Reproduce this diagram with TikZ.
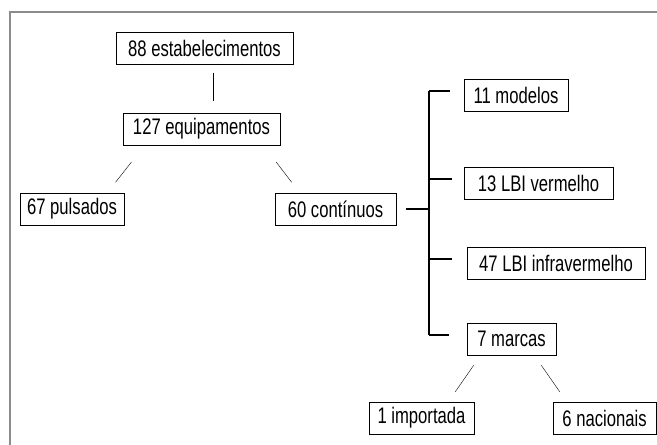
\documentclass[tikz,border=0pt]{standalone}
\usepackage{fontspec}
\setmainfont{Liberation Sans}[FakeStretch=0.74]
\definecolor{framegray}{RGB}{140,140,140}
\begin{document}
\begin{tikzpicture}[x=1pt, y=-1pt, every node/.style={rectangle, draw, line width=1pt, inner sep=0pt, minimum height=32pt, font=\fontsize{22.5}{26}\selectfont}]
    \useasboundingbox (0,0) rectangle (657,445);
    \draw[framegray, line width=2pt] (10,445) -- (10,12) -- (657,12);

    \node[minimum width=177pt] (estab) at (204.5,48) {88 estabelecimentos};
    \node[minimum width=157pt] (equip) at (201.5,129) {127 equipamentos};
    \node[minimum width=104pt] (puls) at (72,209) {67 pulsados};
    \node[minimum width=121pt] (cont) at (335.5,209) {60 contínuos};
    \node[minimum width=104pt] (mod) at (516,95) {11 modelos};
    \node[minimum width=149pt] (verm) at (538.5,183) {13 LBI vermelho};
    \node[minimum width=178pt] (infra) at (556,263) {47 LBI infravermelho};
    \node[minimum width=89pt] (marcas) at (511.5,339) {7 marcas};
    \node[minimum width=105pt] (imp) at (421.5,418) {1 importada};
    \node[minimum width=103pt] (nac) at (604.5,418) {6 nacionais};
    \coordinate (br) at (429,209);

    \draw[shorten <=8pt, shorten >=12pt] ([xshift=8.5pt]estab.south) -- ([xshift=8.5pt]estab.south |- equip.north);
    \draw[shorten <=21pt, shorten >=13pt] ([xshift=22pt]equip.south west) -- ([xshift=88pt]puls.north west);
    \draw[shorten <=21pt, shorten >=13pt] ([xshift=-17pt]equip.south east) -- ([xshift=25pt]cont.north west);
    \draw[line width=2pt, shorten <=9pt] (cont.east) -- (br);
    \draw[line width=2pt] ([yshift=4pt]mod.west -| br) -- ([yshift=4pt]marcas.west -| br);
    \draw[line width=2pt, shorten >=14pt] ([yshift=4pt]mod.west -| br) -- ([yshift=4pt]mod.west);
    \draw[line width=2pt, shorten >=12pt] ([yshift=4pt]verm.west -| br) -- ([yshift=4pt]verm.west);
    \draw[line width=2pt, shorten >=15pt] ([yshift=4pt]infra.west -| br) -- ([yshift=4pt]infra.west);
    \draw[line width=2pt, shorten >=18pt] ([yshift=4pt]marcas.west -| br) -- ([yshift=4pt]marcas.west);
    \draw[shorten <=12pt, shorten >=12pt] ([xshift=14pt]marcas.south west) -- ([xshift=80pt]imp.north west);
    \draw[shorten <=12pt, shorten >=12pt] ([xshift=-22pt]marcas.south east) -- ([xshift=14pt]nac.north west);
\end{tikzpicture}
\end{document}
